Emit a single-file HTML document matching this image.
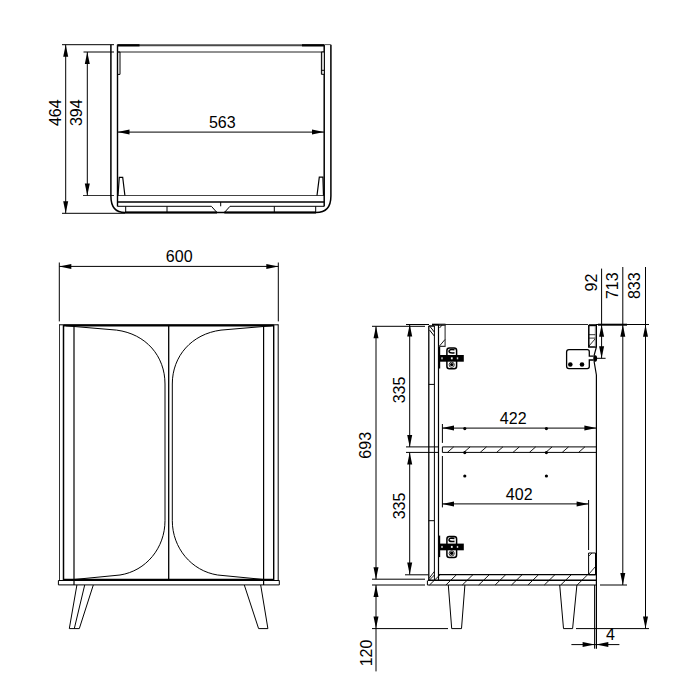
<!DOCTYPE html>
<html><head><meta charset="utf-8"><style>
html,body{margin:0;padding:0;background:#fff;width:700px;height:700px;overflow:hidden}
svg{display:block}
text{font-family:"Liberation Sans",sans-serif;fill:#000}
</style></head><body>
<svg width="700" height="700" viewBox="0 0 700 700">
<rect width="700" height="700" fill="#fff"/>
<path d="M62.00,44.70 L114.00,44.70" stroke="#000" stroke-width="1.0" fill="none" />
<path d="M83.50,52.00 L114.00,52.00" stroke="#000" stroke-width="1.0" fill="none" />
<path d="M62.00,213.30 L125.00,213.30" stroke="#000" stroke-width="1.0" fill="none" />
<path d="M83.00,195.50 L114.00,195.50" stroke="#333" stroke-width="1.0" fill="none" />
<path d="M117.50,195.50 L324.00,195.50" stroke="#444" stroke-width="1.0" fill="none" />
<path d="M65.70,44.70 L65.70,213.30" stroke="#000" stroke-width="1.0" fill="none" />
<path d="M65.70,44.70 L68.20,56.70 L63.20,56.70 Z" fill="#000" stroke="none"/>
<path d="M65.70,213.30 L63.20,201.30 L68.20,201.30 Z" fill="#000" stroke="none"/>
<text transform="translate(60.80,112.70) rotate(-90)" font-size="16" text-anchor="middle">464</text>
<path d="M87.30,52.00 L87.30,195.50" stroke="#000" stroke-width="1.0" fill="none" />
<path d="M87.30,52.00 L89.80,64.00 L84.80,64.00 Z" fill="#000" stroke="none"/>
<path d="M87.30,195.50 L84.80,183.50 L89.80,183.50 Z" fill="#000" stroke="none"/>
<text transform="translate(82.40,112.70) rotate(-90)" font-size="16" text-anchor="middle">394</text>
<path d="M117.50,132.10 L324.00,132.10" stroke="#000" stroke-width="1.0" fill="none" />
<path d="M117.50,132.10 L129.50,129.60 L129.50,134.60 Z" fill="#000" stroke="none"/>
<path d="M324.00,132.10 L312.00,134.60 L312.00,129.60 Z" fill="#000" stroke="none"/>
<text x="222.30" y="128.00" font-size="16" text-anchor="middle">563</text>
<path d="M110.9,44.7 V196 Q110.9,212.6 125,212.6 H316 Q330.9,212.6 330.9,196 V44.7" stroke="#000" stroke-width="1.5" fill="none" />
<path d="M117.50,44.70 L117.50,206.50" stroke="#000" stroke-width="1.4" fill="none" />
<path d="M324.20,44.70 L324.20,206.50" stroke="#000" stroke-width="1.5" fill="none" />
<path d="M324.20,44.60 L330.90,44.60" stroke="#555" stroke-width="1.0" fill="none" />
<path d="M117.50,45.30 L324.00,45.30" stroke="#4a4a4a" stroke-width="2.0" fill="none" />
<path d="M117.50,45.30 L139.50,45.30" stroke="#000" stroke-width="2.2" fill="none" />
<path d="M302.00,45.30 L324.00,45.30" stroke="#000" stroke-width="2.2" fill="none" />
<path d="M117.50,52.00 L324.00,52.00" stroke="#222" stroke-width="1.0" fill="none" />
<path d="M117.5,52 H120 V74.4 H117.5" stroke="#000" stroke-width="1.0" fill="none" />
<path d="M324,52 H321.4 V74.3 H324" stroke="#000" stroke-width="1.0" fill="#ccc" />
<path d="M321.40,70.30 L324.00,70.30" stroke="#000" stroke-width="1.0" fill="none" />
<path d="M118,195.5 L119.3,177.3 H122.7 L124.9,195.5" stroke="#000" stroke-width="1.2" fill="none" />
<path d="M317,195.5 L319.3,177.1 H322.9 L323.5,195.5" stroke="#000" stroke-width="1.2" fill="none" />
<path d="M117.50,202.00 L324.00,202.00" stroke="#000" stroke-width="1.6" fill="none" />
<path d="M117.50,206.30 L211.40,206.30" stroke="#000" stroke-width="1.0" fill="none" />
<path d="M230.00,206.30 L324.00,206.30" stroke="#000" stroke-width="1.0" fill="none" />
<path d="M220.70,202.00 L220.70,206.30" stroke="#000" stroke-width="1.0" fill="none" />
<path d="M211.40,206.30 L217.00,212.60" stroke="#000" stroke-width="1.0" fill="none" />
<path d="M230.00,206.30 L224.30,212.60" stroke="#000" stroke-width="1.0" fill="none" />
<path d="M125,212.6 H217 M224.3,212.6 H316" stroke="#000" stroke-width="2.0" fill="none" />
<path d="M125.70,206.30 L125.70,212.60" stroke="#000" stroke-width="1.0" fill="none" />
<path d="M167.00,206.30 L167.00,212.60" stroke="#000" stroke-width="1.0" fill="none" />
<path d="M274.30,206.30 L274.30,212.60" stroke="#000" stroke-width="1.0" fill="none" />
<path d="M315.70,206.30 L315.70,212.60" stroke="#000" stroke-width="1.0" fill="none" />
<path d="M59.30,262.50 L59.30,321.40" stroke="#000" stroke-width="1.0" fill="none" />
<path d="M278.30,262.50 L278.30,321.40" stroke="#000" stroke-width="1.0" fill="none" />
<path d="M59.30,266.40 L278.30,266.40" stroke="#000" stroke-width="1.0" fill="none" />
<path d="M59.30,266.40 L71.30,263.90 L71.30,268.90 Z" fill="#000" stroke="none"/>
<path d="M278.30,266.40 L266.30,268.90 L266.30,263.90 Z" fill="#000" stroke="none"/>
<text x="179.20" y="262.00" font-size="16" text-anchor="middle">600</text>
<path d="M59.50,324.30 L59.50,580.50" stroke="#333" stroke-width="1.0" fill="none" />
<path d="M278.20,324.30 L278.20,580.50" stroke="#000" stroke-width="1.0" fill="none" />
<path d="M63.50,325.00 L63.50,580.00" stroke="#000" stroke-width="1.5" fill="none" />
<path d="M273.70,325.00 L273.70,580.00" stroke="#000" stroke-width="1.4" fill="none" />
<path d="M63.50,325.40 L273.90,325.40" stroke="#000" stroke-width="2.0" fill="none" />
<path d="M59.40,324.80 L278.20,324.80" stroke="#000" stroke-width="1.0" fill="none" />
<path d="M74.00,326.00 L74.00,585.00" stroke="#000" stroke-width="1.2" fill="none" />
<path d="M263.60,326.00 L263.60,585.00" stroke="#000" stroke-width="1.2" fill="none" />
<path d="M168.70,325.00 L168.70,580.00" stroke="#000" stroke-width="1.3" fill="none" />
<path d="M63.50,579.80 L273.90,579.80" stroke="#000" stroke-width="2.0" fill="none" />
<path d="M58.4,580.5 H279.3 V584.9 H58.4 Z" stroke="#000" stroke-width="1.0" fill="none" />
<path d="M66,325.8 L116.6,330.1 C146,334 165.0,356 165.0,384 V520.7 C165.0,548 146,571 120,575 L74,579.5" stroke="#000" stroke-width="1.0" fill="none" />
<path d="M271.6,325.8 L221,330.1 C191.6,334 172.3,356 172.3,384 V520.7 C172.3,548 191.6,571 217.6,575 L263.6,579.5" stroke="#000" stroke-width="1.0" fill="none" />
<path d="M76.90,585.00 L69.30,628.60" stroke="#000" stroke-width="1.0" fill="none" />
<path d="M84.70,585.00 L74.30,628.60" stroke="#000" stroke-width="1.0" fill="none" />
<path d="M93.30,585.00 L79.30,628.60" stroke="#000" stroke-width="1.0" fill="none" />
<path d="M69.30,628.60 L79.30,628.60" stroke="#000" stroke-width="1.0" fill="none" />
<path d="M244.30,585.00 L258.60,628.60" stroke="#000" stroke-width="1.0" fill="none" />
<path d="M260.70,585.00 L267.90,628.60" stroke="#000" stroke-width="1.0" fill="none" />
<path d="M258.60,628.60 L267.90,628.60" stroke="#000" stroke-width="1.0" fill="none" />
<path d="M372.00,326.30 L425.00,326.30" stroke="#000" stroke-width="1.0" fill="none" />
<path d="M372.00,579.20 L425.00,579.20" stroke="#000" stroke-width="1.0" fill="none" />
<path d="M376.00,326.30 L376.00,579.20" stroke="#000" stroke-width="1.0" fill="none" />
<path d="M376.00,585.00 L376.00,671.40" stroke="#000" stroke-width="1.0" fill="none" />
<path d="M376.00,326.30 L378.50,338.30 L373.50,338.30 Z" fill="#000" stroke="none"/>
<path d="M376.00,579.20 L373.50,567.20 L378.50,567.20 Z" fill="#000" stroke="none"/>
<text transform="translate(371.40,445.30) rotate(-90)" font-size="16" text-anchor="middle">693</text>
<path d="M372.00,585.00 L425.00,585.00" stroke="#000" stroke-width="1.0" fill="none" />
<path d="M372.00,628.60 L448.00,628.60" stroke="#000" stroke-width="1.0" fill="none" />
<path d="M376.00,585.00 L378.50,597.00 L373.50,597.00 Z" fill="#000" stroke="none"/>
<path d="M376.00,628.60 L373.50,616.60 L378.50,616.60 Z" fill="#000" stroke="none"/>
<text transform="translate(371.60,653.00) rotate(-90)" font-size="16" text-anchor="middle">120</text>
<path d="M406.00,324.50 L429.00,324.50" stroke="#000" stroke-width="1.0" fill="none" />
<path d="M409.70,324.50 L409.70,446.90" stroke="#000" stroke-width="1.0" fill="none" />
<path d="M409.70,324.50 L412.20,336.50 L407.20,336.50 Z" fill="#000" stroke="none"/>
<path d="M409.70,446.90 L407.20,434.90 L412.20,434.90 Z" fill="#000" stroke="none"/>
<path d="M406.00,446.90 L438.50,446.90" stroke="#000" stroke-width="1.0" fill="none" />
<path d="M406.00,452.40 L438.50,452.40" stroke="#000" stroke-width="1.0" fill="none" />
<path d="M409.70,452.40 L409.70,574.60" stroke="#000" stroke-width="1.0" fill="none" />
<path d="M409.70,452.40 L412.20,464.40 L407.20,464.40 Z" fill="#000" stroke="none"/>
<path d="M409.70,574.60 L407.20,562.60 L412.20,562.60 Z" fill="#000" stroke="none"/>
<path d="M405.00,574.80 L428.60,574.80" stroke="#000" stroke-width="1.0" fill="none" />
<text transform="translate(405.40,390.00) rotate(-90)" font-size="16" text-anchor="middle">335</text>
<text transform="translate(405.40,506.00) rotate(-90)" font-size="16" text-anchor="middle">335</text>
<path d="M428.80,326.00 L428.80,580.30" stroke="#000" stroke-width="1.3" fill="none" />
<path d="M434.40,326.00 L434.40,580.30" stroke="#000" stroke-width="1.0" fill="none" />
<path d="M428.70,326.00 L434.20,326.00" stroke="#000" stroke-width="1.5" fill="none" />
<path d="M428.70,384.40 L434.20,384.40" stroke="#000" stroke-width="1.0" fill="none" />
<path d="M428.70,520.70 L434.20,520.70" stroke="#000" stroke-width="1.0" fill="none" />
<path d="M438.50,324.50 L438.50,580.50" stroke="#000" stroke-width="1.2" fill="none" />
<path d="M445.00,324.50 L588.00,324.50" stroke="#222" stroke-width="1.0" fill="none" />
<path d="M596.00,324.50 L649.00,324.50" stroke="#000" stroke-width="1.2" fill="none" />
<path d="M598.00,324.70 L627.00,324.70" stroke="#000" stroke-width="2.0" fill="none" />
<path d="M432.00,324.70 L445.50,324.70" stroke="#000" stroke-width="2.0" fill="none" />
<path d="M596.40,324.50 L596.40,347.00" stroke="#000" stroke-width="1.2" fill="none" />
<path d="M596.40,375.00 L596.40,648.70" stroke="#000" stroke-width="1.2" fill="none" />
<path d="M594.60,585.00 L594.60,648.70" stroke="#000" stroke-width="1.0" fill="none" />
<path d="M438.7,324.8 H445.1 V346.4 H438.7" stroke="#333" stroke-width="1.1" fill="none" />
<path d="M439.50,328.00 L442.00,325.20" stroke="#000" stroke-width="0.9" fill="none" />
<path d="M439.50,346.00 L445.00,339.50" stroke="#000" stroke-width="0.9" fill="none" />
<path d="M430.00,326.50 L434.30,332.00" stroke="#000" stroke-width="1.0" fill="none" />
<path d="M429.50,330.00 L434.30,336.00" stroke="#000" stroke-width="1.0" fill="none" />
<path d="M588.8,325 V347.1 H596.4" stroke="#000" stroke-width="1.5" fill="none" />
<path d="M588.80,325.20 L596.60,325.20" stroke="#000" stroke-width="2.0" fill="none" />
<path d="M595.30,326.00 L595.30,347.00" stroke="#666" stroke-width="0.8" fill="none" />
<path d="M588.80,334.70 L595.30,334.70" stroke="#000" stroke-width="0.8" fill="none" />
<path d="M588.80,338.10 L595.30,338.10" stroke="#000" stroke-width="0.8" fill="none" />
<path d="M589.00,346.00 L595.00,339.00" stroke="#000" stroke-width="0.8" fill="none" />
<rect x="439.4" y="355.00" width="24.4" height="6.7" fill="#000"/>
<rect x="446.9" y="348.00" width="9.7" height="20.8" rx="2.5" fill="none" stroke="#000" stroke-width="1.5"/>
<rect x="441.2" y="357.30" width="1.6" height="2" fill="#bbb"/>
<rect x="450.9" y="357.30" width="1.8" height="2" fill="#eee"/>
<rect x="456.8" y="357.30" width="1.4" height="2" fill="#ccc"/>
<rect x="438.6" y="347.00" width="1.6" height="21.5" fill="#000"/>
<path d="M454.5,349.80 Q449,348.80 449,351.40 Q449.5,353.50 454.5,352.80" fill="none" stroke="#000" stroke-width="1.6"/>
<circle cx="451.7" cy="364.80" r="2.6" fill="none" stroke="#000" stroke-width="0.8"/>
<circle cx="451.7" cy="364.60" r="1.7" fill="#000"/>
<rect x="439.4" y="543.60" width="24.4" height="6.7" fill="#000"/>
<rect x="446.9" y="536.60" width="9.7" height="20.8" rx="2.5" fill="none" stroke="#000" stroke-width="1.5"/>
<rect x="441.2" y="545.90" width="1.6" height="2" fill="#bbb"/>
<rect x="450.9" y="545.90" width="1.8" height="2" fill="#eee"/>
<rect x="456.8" y="545.90" width="1.4" height="2" fill="#ccc"/>
<rect x="438.6" y="535.60" width="1.6" height="21.5" fill="#000"/>
<path d="M454.5,538.40 Q449,537.40 449,540.00 Q449.5,542.10 454.5,541.40" fill="none" stroke="#000" stroke-width="1.6"/>
<circle cx="451.7" cy="553.40" r="2.6" fill="none" stroke="#000" stroke-width="0.8"/>
<circle cx="451.7" cy="553.20" r="1.7" fill="#000"/>
<path d="M593.6,356.1 H589.3 V351.7 Q589.3,349.7 587.3,349.7 H569 Q566.6,349.7 566.6,352.1 V366.2 Q566.6,368.6 569,368.6 H587.3 Q589.3,368.6 589.3,366.6 V360 H593.6" stroke="#000" stroke-width="1.3" fill="none" />
<circle cx="570.3" cy="364.5" r="2.3" fill="#000"/>
<circle cx="582" cy="364.5" r="2.3" fill="#000"/>
<path d="M596.4,347 L594.2,355 L594.2,362 L596.4,375" stroke="#000" stroke-width="1.2" fill="none" />
<ellipse cx="595.3" cy="358.5" rx="1.8" ry="3.2" fill="#000"/>
<path d="M601.60,268.60 L601.60,358.30" stroke="#000" stroke-width="1.0" fill="none" />
<path d="M601.60,324.80 L604.10,336.80 L599.10,336.80 Z" fill="#000" stroke="none"/>
<path d="M601.60,358.30 L599.10,346.30 L604.10,346.30 Z" fill="#000" stroke="none"/>
<path d="M597.00,358.30 L605.60,358.30" stroke="#000" stroke-width="1.0" fill="none" />
<text transform="translate(597.20,282.60) rotate(-90)" font-size="16" text-anchor="middle">92</text>
<path d="M622.80,267.00 L622.80,585.00" stroke="#000" stroke-width="1.0" fill="none" />
<path d="M622.80,324.80 L625.30,336.80 L620.30,336.80 Z" fill="#000" stroke="none"/>
<path d="M622.80,585.00 L620.30,573.00 L625.30,573.00 Z" fill="#000" stroke="none"/>
<text transform="translate(617.90,285.70) rotate(-90)" font-size="16" text-anchor="middle">713</text>
<path d="M645.50,267.00 L645.50,628.60" stroke="#000" stroke-width="1.0" fill="none" />
<path d="M645.50,324.80 L648.00,336.80 L643.00,336.80 Z" fill="#000" stroke="none"/>
<path d="M645.50,628.60 L643.00,616.60 L648.00,616.60 Z" fill="#000" stroke="none"/>
<text transform="translate(640.30,285.70) rotate(-90)" font-size="16" text-anchor="middle">833</text>
<path d="M600.00,585.00 L627.00,585.00" stroke="#000" stroke-width="1.0" fill="none" />
<path d="M576.00,628.60 L649.00,628.60" stroke="#000" stroke-width="1.0" fill="none" />
<path d="M442.40,446.90 L596.40,446.90" stroke="#000" stroke-width="1.0" fill="none" />
<path d="M442.40,452.40 L596.40,452.40" stroke="#000" stroke-width="1.0" fill="none" />
<path d="M447.40,452.40 L453.70,446.90" stroke="#000" stroke-width="0.9" fill="none" />
<path d="M463.80,452.40 L470.10,446.90" stroke="#000" stroke-width="0.9" fill="none" />
<path d="M480.20,452.40 L486.50,446.90" stroke="#000" stroke-width="0.9" fill="none" />
<path d="M496.60,452.40 L502.90,446.90" stroke="#000" stroke-width="0.9" fill="none" />
<path d="M513.00,452.40 L519.30,446.90" stroke="#000" stroke-width="0.9" fill="none" />
<path d="M529.40,452.40 L535.70,446.90" stroke="#000" stroke-width="0.9" fill="none" />
<path d="M545.80,452.40 L552.10,446.90" stroke="#000" stroke-width="0.9" fill="none" />
<path d="M562.20,452.40 L568.50,446.90" stroke="#000" stroke-width="0.9" fill="none" />
<path d="M578.60,452.40 L584.90,446.90" stroke="#000" stroke-width="0.9" fill="none" />
<path d="M442.40,424.00 L442.40,442.90" stroke="#000" stroke-width="1.0" fill="none" />
<path d="M442.40,456.00 L442.40,507.40" stroke="#000" stroke-width="1.0" fill="none" />
<path d="M442.40,446.90 L442.40,452.40" stroke="#000" stroke-width="1.0" fill="none" />
<path d="M442.00,428.10 L596.40,428.10" stroke="#000" stroke-width="1.0" fill="none" />
<path d="M442.00,428.10 L454.00,425.60 L454.00,430.60 Z" fill="#000" stroke="none"/>
<path d="M596.40,428.10 L584.40,430.60 L584.40,425.60 Z" fill="#000" stroke="none"/>
<text x="513.20" y="423.80" font-size="16" text-anchor="middle">422</text>
<path d="M442.00,503.90 L588.60,503.90" stroke="#000" stroke-width="1.0" fill="none" />
<path d="M442.00,503.90 L454.00,501.40 L454.00,506.40 Z" fill="#000" stroke="none"/>
<path d="M588.60,503.90 L576.60,506.40 L576.60,501.40 Z" fill="#000" stroke="none"/>
<path d="M588.60,500.00 L588.60,550.00" stroke="#000" stroke-width="1.0" fill="none" />
<text x="519.20" y="499.70" font-size="16" text-anchor="middle">402</text>
<circle cx="464.8" cy="428.6" r="1.6" fill="#000"/>
<circle cx="464.8" cy="452.6" r="1.6" fill="#000"/>
<circle cx="464.8" cy="476" r="1.6" fill="#000"/>
<circle cx="546.4" cy="428.6" r="1.6" fill="#000"/>
<circle cx="546.4" cy="452.6" r="1.6" fill="#000"/>
<circle cx="546.4" cy="476" r="1.6" fill="#000"/>
<path d="M439.00,574.70 L596.40,574.70" stroke="#000" stroke-width="1.2" fill="none" />
<path d="M428.00,580.30 L596.40,580.30" stroke="#000" stroke-width="1.5" fill="none" />
<path d="M427.40,585.00 L596.40,585.00" stroke="#000" stroke-width="1.2" fill="none" />
<path d="M427.40,580.50 L427.40,585.00" stroke="#000" stroke-width="1.0" fill="none" />
<path d="M429.50,585.00 L440.20,574.60" stroke="#000" stroke-width="0.9" fill="none" />
<path d="M445.90,585.00 L456.60,574.60" stroke="#000" stroke-width="0.9" fill="none" />
<path d="M462.30,585.00 L473.00,574.60" stroke="#000" stroke-width="0.9" fill="none" />
<path d="M478.70,585.00 L489.40,574.60" stroke="#000" stroke-width="0.9" fill="none" />
<path d="M495.10,585.00 L505.80,574.60" stroke="#000" stroke-width="0.9" fill="none" />
<path d="M511.50,585.00 L522.20,574.60" stroke="#000" stroke-width="0.9" fill="none" />
<path d="M527.90,585.00 L538.60,574.60" stroke="#000" stroke-width="0.9" fill="none" />
<path d="M544.30,585.00 L555.00,574.60" stroke="#000" stroke-width="0.9" fill="none" />
<path d="M560.70,585.00 L571.40,574.60" stroke="#000" stroke-width="0.9" fill="none" />
<path d="M577.10,585.00 L587.80,574.60" stroke="#000" stroke-width="0.9" fill="none" />
<path d="M588.6,553 H595.5 V574.8 H588.6 Z" stroke="#000" stroke-width="1.0" fill="none" />
<path d="M589.00,574.00 L595.00,567.00" stroke="#000" stroke-width="0.8" fill="none" />
<path d="M589.00,556.00 L592.00,553.00" stroke="#000" stroke-width="0.8" fill="none" />
<path d="M429.00,578.50 L434.40,571.40" stroke="#000" stroke-width="0.9" fill="none" />
<path d="M429.50,580.00 L434.40,575.00" stroke="#000" stroke-width="0.9" fill="none" />
<path d="M448.30,585.00 L451.70,628.60" stroke="#000" stroke-width="1.0" fill="none" />
<path d="M464.90,585.00 L461.50,628.60" stroke="#000" stroke-width="1.0" fill="none" />
<path d="M451.70,628.60 L461.50,628.60" stroke="#000" stroke-width="1.0" fill="none" />
<path d="M559.70,585.00 L563.50,628.60" stroke="#000" stroke-width="1.0" fill="none" />
<path d="M576.90,585.00 L572.60,628.60" stroke="#000" stroke-width="1.0" fill="none" />
<path d="M563.50,628.60 L572.60,628.60" stroke="#000" stroke-width="1.0" fill="none" />
<path d="M571.40,644.60 L619.40,644.60" stroke="#000" stroke-width="1.0" fill="none" />
<path d="M594.60,644.60 L582.60,647.10 L582.60,642.10 Z" fill="#000" stroke="none"/>
<path d="M596.30,644.60 L608.30,642.10 L608.30,647.10 Z" fill="#000" stroke="none"/>
<text x="610.40" y="639.80" font-size="16" text-anchor="middle">4</text>
</svg>
</body></html>
